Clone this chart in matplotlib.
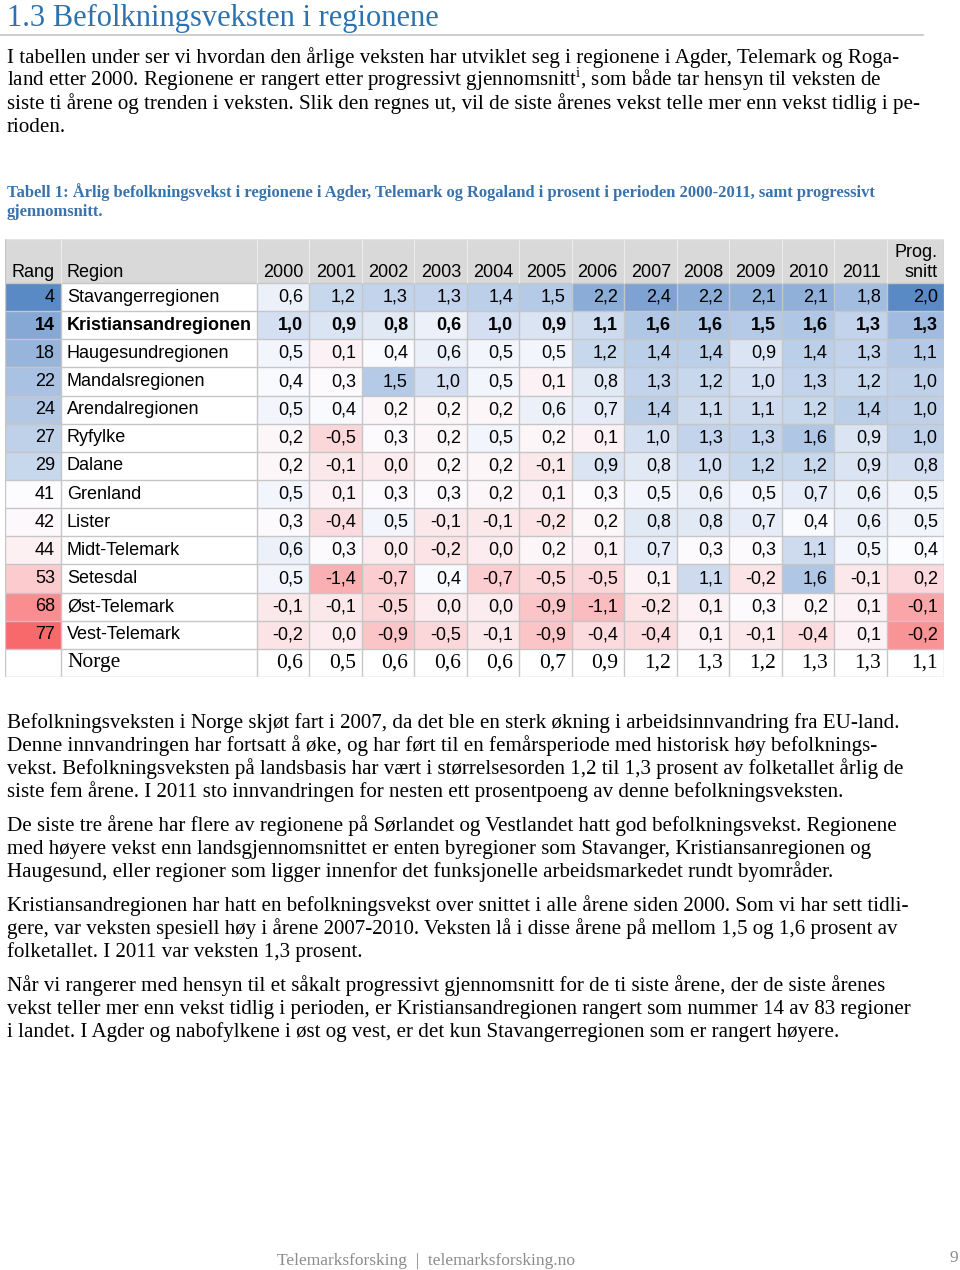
import numpy as np
import matplotlib
matplotlib.use("Agg")
from matplotlib import pyplot as plt
from matplotlib.colors import LinearSegmentedColormap, TwoSlopeNorm

plt.rcParams["mathtext.fontset"] = "custom"
plt.rcParams["mathtext.rm"] = "Liberation Serif"

# ---- data -------------------------------------------------------------
ranks = [4, 14, 18, 22, 24, 27, 29, 41, 42, 44, 53, 68, 77]
regions = ["Stavangerregionen", "Kristiansandregionen", "Haugesundregionen",
           "Mandalsregionen", "Arendalregionen", "Ryfylke", "Dalane", "Grenland",
           "Lister", "Midt-Telemark", "Setesdal", "Øst-Telemark", "Vest-Telemark"]
years = [str(y) for y in range(2000, 2012)]
growth = [
    [0.6, 1.2, 1.3, 1.3, 1.4, 1.5, 2.2, 2.4, 2.2, 2.1, 2.1, 1.8],
    [1.0, 0.9, 0.8, 0.6, 1.0, 0.9, 1.1, 1.6, 1.6, 1.5, 1.6, 1.3],
    [0.5, 0.1, 0.4, 0.6, 0.5, 0.5, 1.2, 1.4, 1.4, 0.9, 1.4, 1.3],
    [0.4, 0.3, 1.5, 1.0, 0.5, 0.1, 0.8, 1.3, 1.2, 1.0, 1.3, 1.2],
    [0.5, 0.4, 0.2, 0.2, 0.2, 0.6, 0.7, 1.4, 1.1, 1.1, 1.2, 1.4],
    [0.2, -0.5, 0.3, 0.2, 0.5, 0.2, 0.1, 1.0, 1.3, 1.3, 1.6, 0.9],
    [0.2, -0.1, 0.0, 0.2, 0.2, -0.1, 0.9, 0.8, 1.0, 1.2, 1.2, 0.9],
    [0.5, 0.1, 0.3, 0.3, 0.2, 0.1, 0.3, 0.5, 0.6, 0.5, 0.7, 0.6],
    [0.3, -0.4, 0.5, -0.1, -0.1, -0.2, 0.2, 0.8, 0.8, 0.7, 0.4, 0.6],
    [0.6, 0.3, 0.0, -0.2, 0.0, 0.2, 0.1, 0.7, 0.3, 0.3, 1.1, 0.5],
    [0.5, -1.4, -0.7, 0.4, -0.7, -0.5, -0.5, 0.1, 1.1, -0.2, 1.6, -0.1],
    [-0.1, -0.1, -0.5, 0.0, 0.0, -0.9, -1.1, -0.2, 0.1, 0.3, 0.2, 0.1],
    [-0.2, 0.0, -0.9, -0.5, -0.1, -0.9, -0.4, -0.4, 0.1, -0.1, -0.4, 0.1],
]
prog = [2.0, 1.3, 1.1, 1.0, 1.0, 1.0, 0.8, 0.5, 0.5, 0.4, 0.2, -0.1, -0.2]
norge = [0.6, 0.5, 0.6, 0.6, 0.6, 0.7, 0.9, 1.2, 1.3, 1.2, 1.3, 1.3]
norge_prog = 1.1

intro = [
    "I tabellen under ser vi hvordan den årlige veksten har utviklet seg i regionene i Agder, Telemark og Roga-",
    "land etter 2000. Regionene er rangert etter progressivt gjennomsnitt$^{\\mathrm{i}}$, som både tar hensyn til veksten de",
    "siste ti årene og trenden i veksten. Slik den regnes ut, vil de siste årenes vekst telle mer enn vekst tidlig i pe-",
    "rioden.",
]
caption = [
    "Tabell 1: Årlig befolkningsvekst i regionene i Agder, Telemark og Rogaland i prosent i perioden 2000-2011, samt progressivt",
    "gjennomsnitt.",
]
paragraphs = [
    ["Befolkningsveksten i Norge skjøt fart i 2007, da det ble en sterk økning i arbeidsinnvandring fra EU-land.",
     "Denne innvandringen har fortsatt å øke, og har ført til en femårsperiode med historisk høy befolknings-",
     "vekst. Befolkningsveksten på landsbasis har vært i størrelsesorden 1,2 til 1,3 prosent av folketallet årlig de",
     "siste fem årene. I 2011 sto innvandringen for nesten ett prosentpoeng av denne befolkningsveksten."],
    ["De siste tre årene har flere av regionene på Sørlandet og Vestlandet hatt god befolkningsvekst. Regionene",
     "med høyere vekst enn landsgjennomsnittet er enten byregioner som Stavanger, Kristiansanregionen og",
     "Haugesund, eller regioner som ligger innenfor det funksjonelle arbeidsmarkedet rundt byområder."],
    ["Kristiansandregionen har hatt en befolkningsvekst over snittet i alle årene siden 2000. Som vi har sett tidli-",
     "gere, var veksten spesiell høy i årene 2007-2010. Veksten lå i disse årene på mellom 1,5 og 1,6 prosent av",
     "folketallet. I 2011 var veksten 1,3 prosent."],
    ["Når vi rangerer med hensyn til et såkalt progressivt gjennomsnitt for de ti siste årene, der de siste årenes",
     "vekst teller mer enn vekst tidlig i perioden, er Kristiansandregionen rangert som nummer 14 av 83 regioner",
     "i landet. I Agder og nabofylkene i øst og vest, er det kun Stavangerregionen som er rangert høyere."],
]


def fmt(v):
    return f"{v:.1f}".replace(".", ",")


serif = "Liberation Serif"
sans = "Liberation Sans"
blue_title = "#2b72b0"
body_fs = 15.1

fig = plt.figure(figsize=(9.6, 12.7), dpi=100)
page = fig.add_axes([0, 0, 1, 1])
page.set_xlim(0, 960)
page.set_ylim(1270, 0)
page.axis("off")

# heading
page.text(7, 26, "1.3 Befolkningsveksten i regionene", family=serif, fontsize=22,
          color=blue_title, va="baseline")
page.plot([0, 923], [34.5, 34.5], color="#c4c4c4", lw=1.2)

for i, line in enumerate(intro):
    page.text(7, 63 + 23 * i, line, family=serif, fontsize=body_fs, va="baseline")

for i, line in enumerate(caption):
    page.text(7, 197 + 19 * i, line, family=serif, fontsize=11.9, weight="bold",
              color="#3a72aa", va="baseline")

y = 728
for para in paragraphs:
    for line in para:
        page.text(7, y, line, family=serif, fontsize=body_fs, va="baseline")
        y += 23
    y += 11

page.text(277, 1265, "Telemarksforsking  |  telemarksforsking.no", family=serif,
          fontsize=12.5, color="#8c8c8c", va="baseline")
page.text(958, 1262, "9", family=serif, fontsize=12.5, color="#8c8c8c",
          ha="right", va="baseline")

# ---- table -----------------------------------------------------------
col_w = [56, 196, 52, 53, 52, 53, 52, 53, 52, 53, 52, 53, 52, 53, 57]
xe = np.concatenate([[0], np.cumsum(col_w)])
head_h, row_h = 44, 28.14
n_rows = len(regions) + 1
ye = np.concatenate([[0], head_h + row_h * np.arange(n_rows + 1)])

tab = fig.add_axes([5 / 960, 1 - 677 / 1270, xe[-1] / 960, ye[-1] / 1270])
tab.set_xlim(0, xe[-1])
tab.set_ylim(ye[-1], 0)
tab.axis("off")

cmap = LinearSegmentedColormap.from_list("rwb", ["#F8696B", "#FCFCFF", "#5A8AC6"])
vals = np.array(growth)
body_y = ye[1:len(regions) + 2]

tab.axhspan(0, head_h, color="#d9d9d9", lw=0)
tab.pcolormesh(xe[2:15], body_y, vals, cmap=cmap,
               norm=TwoSlopeNorm(vcenter=0.35, vmin=-3, vmax=3))
tab.pcolormesh(xe[0:2], body_y, np.array(ranks)[:, None], cmap=cmap.reversed(),
               norm=TwoSlopeNorm(vcenter=41, vmin=min(ranks), vmax=max(ranks)))
tab.pcolormesh(xe[14:16], body_y, np.array(prog)[:, None], cmap=cmap,
               norm=TwoSlopeNorm(vcenter=0.4, vmin=-0.45, vmax=max(prog)))

tab.hlines(ye[1:], 0, xe[-1], color="#c6c6c6", lw=1)
tab.hlines(0, 0, xe[-1], color="#e4e4e4", lw=1)
tab.vlines(xe, 0, ye[-1], color="#c6c6c6", lw=1)
tab.vlines(xe[1:-1], 0, head_h, color="#ececec", lw=1)

pad = 6
hb = 38
tfs = 13
tab.text(xe[1] - pad, hb, "Rang", family=sans, fontsize=tfs, ha="right", va="baseline")
tab.text(xe[1] + pad, hb, "Region", family=sans, fontsize=tfs, ha="left", va="baseline")
for j, yr in enumerate(years):
    tab.text(xe[j + 3] - pad, hb, yr, family=sans, fontsize=tfs, ha="right", va="baseline")
tab.text(xe[15] - pad, hb - 20, "Prog.", family=sans, fontsize=tfs, ha="right", va="baseline")
tab.text(xe[15] - pad, hb, "snitt", family=sans, fontsize=tfs, ha="right", va="baseline")

for i, reg in enumerate(regions):
    yc = (ye[i + 1] + ye[i + 2]) / 2
    w = "bold" if reg == "Kristiansandregionen" else "normal"
    kw = dict(family=sans, fontsize=tfs, weight=w, va="center")
    tab.text(xe[1] - pad, yc, str(ranks[i]), ha="right", **kw)
    tab.text(xe[1] + pad, yc, reg, ha="left", **kw)
    for j, v in enumerate(growth[i]):
        tab.text(xe[j + 3] - pad, yc, fmt(v), ha="right", **kw)
    tab.text(xe[15] - pad, yc, fmt(prog[i]), ha="right", **kw)

yc = (ye[-2] + ye[-1]) / 2
kw = dict(family=serif, fontsize=15.5, va="center")
tab.text(xe[1] + pad, yc, "Norge", ha="left", **kw)
for j, v in enumerate(norge):
    tab.text(xe[j + 3] - pad, yc, fmt(v), ha="right", **kw)
tab.text(xe[15] - pad, yc, fmt(norge_prog), ha="right", **kw)

fig.savefig("out.png", dpi=100)
